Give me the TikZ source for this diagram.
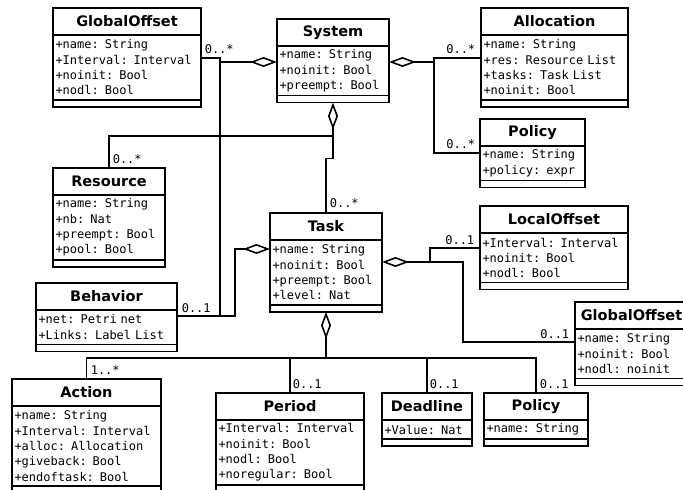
\documentclass[tikz,border=0pt]{standalone}
\usepackage{fontspec}
\setsansfont{DejaVu Sans}
\setmonofont{DejaVu Sans Mono}
\usetikzlibrary{arrows.meta}

\begin{document}
\begin{tikzpicture}[x=1pt,y=-1pt,line width=1.6pt,
    title/.style={draw,anchor=north west,outer sep=0pt,inner sep=0pt,minimum height=27pt,font=\sffamily\bfseries\fontsize{14.5}{17}\selectfont},
    attrs/.style={draw,anchor=north west,outer sep=0pt,inner xsep=2.5pt,inner ysep=0pt,align=left,minimum height={#1*15.3pt+3.7pt},font=\ttfamily\fontsize{12}{15.3}\selectfont},
    ops/.style={draw,anchor=north west,outer sep=0pt,inner sep=0pt,minimum height=7pt},
    mult/.style={inner sep=1pt,font=\ttfamily\fontsize{12}{14}\selectfont},
    agg/.style={{Diamond[open,length=27pt,width=10pt]}-}]
    \useasboundingbox (0,0) rectangle (683,490);
    \clip (0,0) rectangle (683,490);

    %classes
    \node[title,minimum width=148pt] (go1) at (53,8) {GlobalOffset};
    \node[attrs=4,text width=143pt] (go1-a) at (go1.south west) {+name: String\\+Interval: Interval\\+noinit: Bool\\+nodl: Bool};
    \node[ops,minimum width=148pt] (go1-o) at (go1-a.south west) {};

    \node[title,minimum width=112pt] (sys) at (277,19) {System};
    \node[attrs=3,text width=107pt] (sys-a) at (sys.south west) {+name: String\\+noinit: Bool\\+preempt: Bool};
    \node[ops,minimum width=112pt] (sys-o) at (sys-a.south west) {};

    \node[title,minimum width=147pt] (alloc) at (481,8) {Allocation};
    \node[attrs=4,text width=142pt] (alloc-a) at (alloc.south west) {+name: String\\+res: Resource List\\+tasks: Task List\\+noinit: Bool};
    \node[ops,minimum width=147pt] (alloc-o) at (alloc-a.south west) {};

    \node[title,minimum width=105pt] (pol) at (480,119) {Policy};
    \node[attrs=2,text width=100pt] (pol-a) at (pol.south west) {+name: String\\+policy: expr};
    \node[ops,minimum width=105pt] (pol-o) at (pol-a.south west) {};

    \node[title,minimum width=112pt] (res) at (53,168) {Resource};
    \node[attrs=4,text width=107pt] (res-a) at (res.south west) {+name: String\\+nb: Nat\\+preempt: Bool\\+pool: Bool};
    \node[ops,minimum width=112pt] (res-o) at (res-a.south west) {};

    \node[title,minimum width=141pt] (beh) at (36,283) {Behavior};
    \node[attrs=2,text width=136pt] (beh-a) at (beh.south west) {+net: Petri net\\+Links: Label List};
    \node[ops,minimum width=141pt] (beh-o) at (beh-a.south west) {};

    \node[title,minimum width=112pt] (task) at (270,213) {Task};
    \node[attrs=4,text width=107pt] (task-a) at (task.south west) {+name: String\\+noinit: Bool\\+preempt: Bool\\+level: Nat};
    \node[ops,minimum width=112pt] (task-o) at (task-a.south west) {};

    \node[title,minimum width=148pt] (loc) at (480,206) {LocalOffset};
    \node[attrs=3,text width=143pt] (loc-a) at (loc.south west) {+Interval: Interval\\+noinit: Bool\\+nodl: Bool};
    \node[ops,minimum width=148pt] (loc-o) at (loc-a.south west) {};

    \node[title,minimum width=113pt] (go2) at (575,302) {GlobalOffset};
    \node[attrs=3,text width=108pt] (go2-a) at (go2.south west) {+name: String\\+noinit: Bool\\+nodl: noinit};
    \node[ops,minimum width=113pt] (go2-o) at (go2-a.south west) {};

    \node[title,minimum width=149pt] (act) at (12,379) {Action};
    \node[attrs=5,text width=144pt] (act-a) at (act.south west) {+name: String\\+Interval: Interval\\+alloc: Allocation\\+giveback: Bool\\+endoftask: Bool};
    \node[ops,minimum width=149pt] (act-o) at (act-a.south west) {};

    \node[title,minimum width=148pt] (per) at (216,393) {Period};
    \node[attrs=4,text width=143pt] (per-a) at (per.south west) {+Interval: Interval\\+noinit: Bool\\+nodl: Bool\\+noregular: Bool};
    \node[ops,minimum width=148pt] (per-o) at (per-a.south west) {};

    \node[title,minimum width=90pt] (dl) at (382,393) {Deadline};
    \node[attrs=1,text width=85pt] (dl-a) at (dl.south west) {+Value: Nat};
    \node[ops,minimum width=90pt] (dl-o) at (dl-a.south west) {};

    \node[title,minimum width=104pt] (pol2) at (484,393) {Policy};
    \node[attrs=1,text width=99pt] (pol2-a) at (pol2.south west) {+name: String};
    \node[ops,minimum width=104pt] (pol2-o) at (pol2-a.south west) {};

    %bend points
    \coordinate (sysL) at (220,62);
    \coordinate (sysR) at (434,62);
    \coordinate (taskR) at (430,262);
    \coordinate (bus) at (326,358);

    %aggregations of system
    \draw[agg] (sys-a.west |- sysL) -- (sysL) -- (220,58) -- (go1-a.east |- 0,58);
    \draw (beh-a.east |- 0,316) -| (sysL);
    \draw[agg] (sys-a.east |- sysR) -- (sysR) -- (434,58) -- (alloc-a.west |- 0,58);
    \draw (sysR) |- (pol-a.west |- 0,153);
    \draw[agg] (sys-o.south) -- ++(0,56) -| (task.north);
    \draw (res.north) |- (sys-o.south |- 0,136);

    %aggregations of task
    \draw[agg] (task-a.west |- 0,249) -| (235,316) -- (beh-a.east |- 0,316);
    \draw[agg] (task-a.east |- taskR) -- (taskR) |- (loc-a.west |- 0,248);
    \draw (taskR) -- (463,262) |- (go2-a.west |- 0,342);
    \draw[agg] (task-o.south) -- (bus);
    \draw (bus) -| (act.north);
    \draw (bus) -| (per.north);
    \draw (bus) -| (dl.north);
    \draw (bus) -| (pol2.north);

    %multiplicities
    \node[mult,anchor=south west] (m-go1) at (203,55) {0..*};
    \node[mult,anchor=south east] (m-alloc) at (477,55) {0..*};
    \node[mult,anchor=south east] (m-pol) at (477,150) {0..*};
    \node[mult,anchor=south west] (m-res) at (111,165) {0..*};
    \node[mult,anchor=south west] (m-task) at (328,209) {0..*};
    \node[mult,anchor=south west] (m-beh) at (180,314) {0..1};
    \node[mult,anchor=south east] (m-loc) at (476,246) {0..1};
    \node[mult,anchor=south east] (m-go2) at (571,340) {0..1};
    \node[mult,anchor=south west] (m-act) at (89,376) {1..*};
    \node[mult,anchor=south west] (m-per) at (291,390) {0..1};
    \node[mult,anchor=south west] (m-dl) at (428,390) {0..1};
    \node[mult,anchor=south west] (m-pol2) at (538,390) {0..1};
  \end{tikzpicture}
\end{document}
